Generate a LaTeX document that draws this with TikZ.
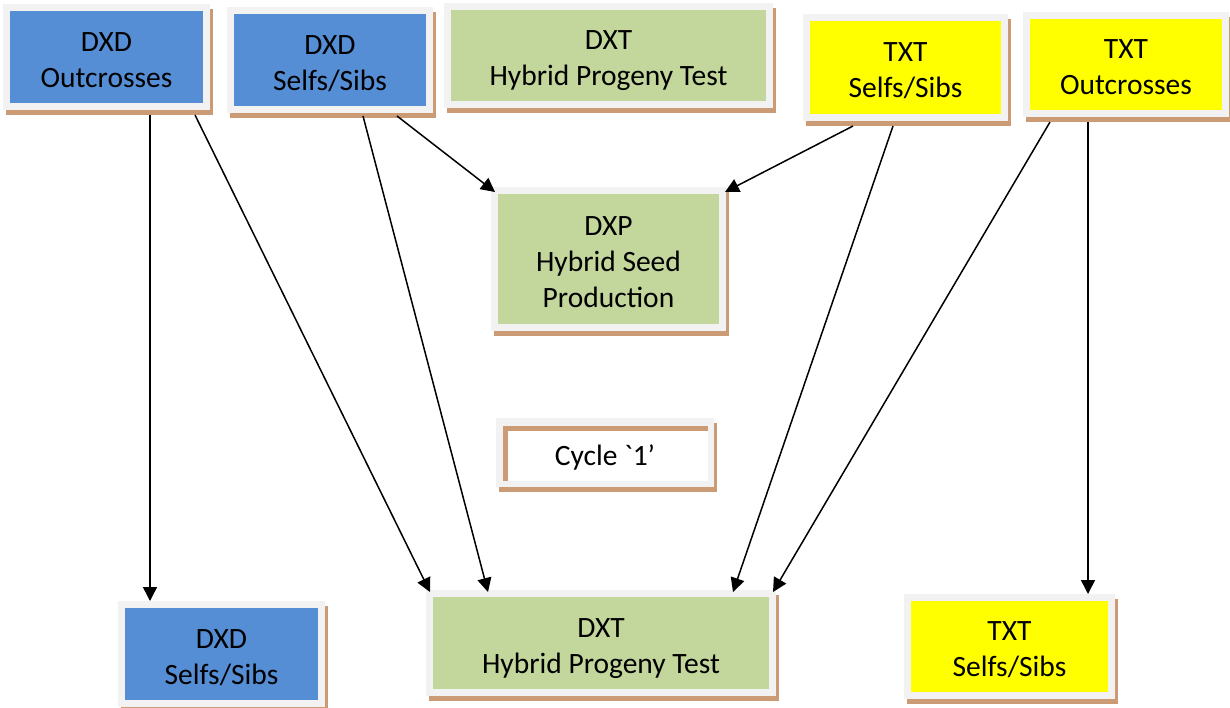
\documentclass[tikz,border=0pt]{standalone}
\usepackage{fontspec}
\setmainfont{Carlito}[Ligatures=TeXOff]
\usetikzlibrary{shadows,arrows.meta,calc}
\definecolor{framegray}{HTML}{F2F2F2}
\definecolor{shadowc}{HTML}{CB9B76}
\definecolor{dblue}{HTML}{558ED5}
\definecolor{dgreen}{HTML}{C3D69B}
\definecolor{tyellow}{HTML}{FFFF00}
\newcommand{\bxtext}[2][-5pt]{\raisebox{#1}[\height][\depth]{\begin{tabular}{@{}c@{}}#2\end{tabular}}}
\tikzset{
  boxfont/.style={font=\fontsize{29.5}{36}\selectfont},
  cbox/.style={fill=framegray, draw=none, inner sep=0pt, outer sep=0pt, boxfont,
    drop shadow={shadow xshift=3pt, shadow yshift=-5pt, fill=shadowc, opacity=1},
    path picture={\fill[#1] ([shift={(7pt,-7pt)}]path picture bounding box.north west) rectangle ([shift={(-7pt,7pt)}]path picture bounding box.south east);}},
  cyclebox/.style={fill=framegray, draw=none, inner sep=0pt, outer sep=0pt, boxfont,
    drop shadow={shadow xshift=3pt, shadow yshift=-5pt, fill=shadowc, opacity=1},
    path picture={
      \fill[white] ([shift={(7pt,-8pt)}]path picture bounding box.north west) rectangle ([shift={(-6pt,6pt)}]path picture bounding box.south east);
      \fill[shadowc] ([shift={(7pt,-8pt)}]path picture bounding box.north west) rectangle ([shift={(-6pt,-13pt)}]path picture bounding box.north east);
      \fill[shadowc] ([shift={(7pt,-8pt)}]path picture bounding box.north west) rectangle ([shift={(12pt,6pt)}]path picture bounding box.south west);
    }},
  sz/.style 2 args={minimum width=#1pt, minimum height=#2pt},
  arr/.style={line width=1.5pt, -{Triangle[length=14pt,width=14pt]}},
}
\begin{document}
\begin{tikzpicture}[x=1pt,y=-1pt]
\useasboundingbox (0,0) rectangle (1230,707);
% top row
\node[cbox=dblue, sz={207}{106}] (b1) at (106.5,57) {\bxtext{DXD\\Outcrosses}};
\node[cbox=dblue, sz={206}{106}] (b2) at (330,60) {\bxtext{DXD\\Selfs/Sibs}};
\node[cbox=dgreen, sz={329}{105}] (b3) at (608.5,55.5) {\bxtext{DXT\\Hybrid Progeny Test}};
\node[cbox=tyellow, sz={205}{107}] (b4) at (905.5,67.5) {\bxtext{TXT\\Selfs/Sibs}};
\node[cbox=tyellow, sz={206}{105}] (b5) at (1126,64.5) {\bxtext{TXT\\Outcrosses}};
% middle
\node[cbox=dgreen, sz={235}{144}] (dxp) at (608.5,259) {\bxtext{DXP\\Hybrid Seed\\Production}};
\node[cyclebox, sz={218}{69}] (cyc) at (605,452.5) {\bxtext[-6pt]{Cycle `1’}};
% bottom row
\node[cbox=dblue, sz={207}{106}] (b6) at (221.5,654) {\bxtext{DXD\\Selfs/Sibs}};
\node[cbox=dgreen, sz={350}{106}] (b7) at (601,643) {\bxtext{DXT\\Hybrid Progeny Test}};
\node[cbox=tyellow, sz={211}{105}] (b8) at (1009.5,646.5) {\bxtext{TXT\\Selfs/Sibs}};
% arrows
\draw[arr] ([shift={(43.5,5)}]b1.south) -- ([shift={(-71.5,0)}]b6.north);
\draw[arr] ([shift={(88.5,5)}]b1.south) -- ([shift={(-171,2)}]b7.north);
\draw[arr] ([shift={(33,3)}]b2.south) -- ([shift={(-113,2)}]b7.north);
\draw[arr] ([shift={(67,3)}]b2.south) -- ([shift={(4,5)}]dxp.north west);
\draw[arr] ([shift={(-52.5,5)}]b4.south) -- ([shift={(-1,5)}]dxp.north east);
\draw[arr] ([shift={(-12.5,5)}]b4.south) -- ([shift={(132,2)}]b7.north);
\draw[arr] ([shift={(-76,5)}]b5.south) -- ([shift={(172,2)}]b7.north);
\draw[arr] ([shift={(-38,5)}]b5.south) -- ([shift={(78.5,0)}]b8.north);
\end{tikzpicture}
\end{document}
